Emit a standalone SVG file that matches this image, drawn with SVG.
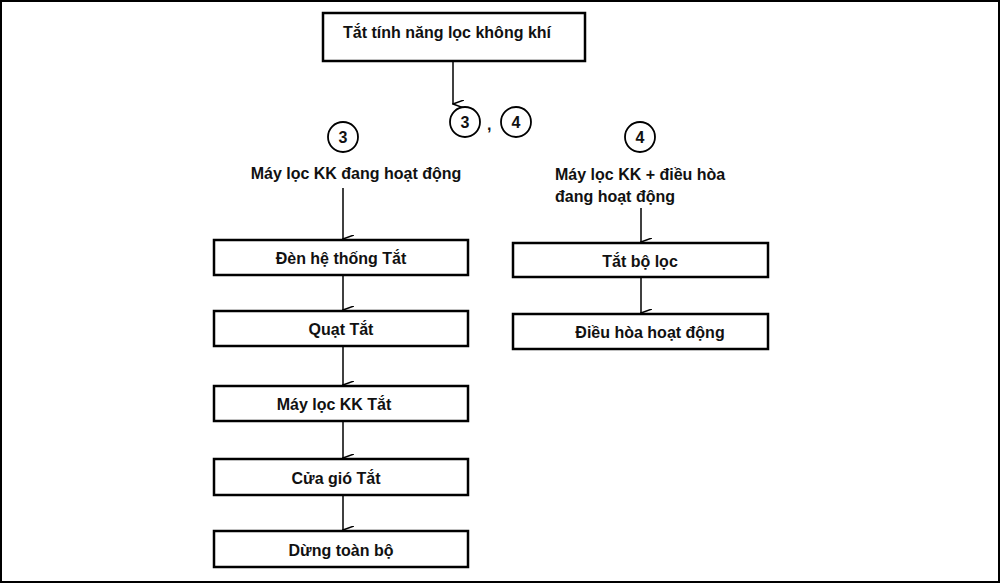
<svg xmlns="http://www.w3.org/2000/svg" width="1000" height="583" viewBox="0 0 1000 583">
<style>
text{font-family:"Liberation Sans",Arial,sans-serif;font-weight:bold;font-size:16px;fill:#111}
.b{fill:#fff;stroke:#000;stroke-width:2.5}
.c{fill:#fff;stroke:#000;stroke-width:1.8}
.l{stroke:#000;stroke-width:1.5;fill:none;marker-end:url(#a)}
.m{text-anchor:middle}
</style>
<defs><marker id="a" markerWidth="8" markerHeight="12" refX="4" refY="11" orient="auto" markerUnits="userSpaceOnUse"><path d="M0,0 L4,11 L8,0" fill="none" stroke="#000" stroke-width="1.5"/></marker></defs>
<rect x="1" y="1" width="998" height="581" fill="#fff" stroke="#000" stroke-width="2"/>
<g id="connectors">
<line class="l" x1="453" y1="61" x2="453" y2="104"/>
<line class="l" x1="343" y1="188" x2="343" y2="239"/>
<line class="l" x1="343" y1="275" x2="343" y2="310"/>
<line class="l" x1="343" y1="346" x2="343" y2="385"/>
<line class="l" x1="343" y1="421" x2="343" y2="458"/>
<line class="l" x1="343" y1="495" x2="343" y2="530"/>
<line class="l" x1="641" y1="208" x2="641" y2="242"/>
<line class="l" x1="641" y1="277" x2="641" y2="313"/>
</g>
<g id="top"><rect class="b" x="323" y="13" width="262" height="48"/><text x="343" y="38">Tắt tính năng lọc không khí</text></g>
<g id="c34"><circle class="c" cx="465" cy="122" r="15"/><text class="m" x="465" y="128">3</text><text x="487" y="130">,</text><circle class="c" cx="516" cy="122" r="15"/><text class="m" x="516" y="128">4</text></g>
<g id="n3"><circle class="c" cx="343" cy="137" r="15"/><text class="m" x="343" y="143">3</text><text class="m" x="356" y="179">Máy lọc KK đang hoạt động</text></g>
<g id="n4"><circle class="c" cx="640" cy="137" r="15"/><text class="m" x="640" y="143">4</text><text x="555" y="180">Máy lọc KK + điều hòa</text><text x="555" y="202">đang hoạt động</text></g>
<g id="b1"><rect class="b" x="214" y="240" width="254" height="35"/><text class="m" x="341" y="264">Đèn hệ thống Tắt</text></g>
<g id="b2"><rect class="b" x="214" y="311" width="254" height="35"/><text class="m" x="341" y="335">Quạt Tắt</text></g>
<g id="b3"><rect class="b" x="214" y="386" width="254" height="35"/><text class="m" x="334" y="410">Máy lọc KK Tắt</text></g>
<g id="b4"><rect class="b" x="214" y="459" width="254" height="36"/><text class="m" x="336" y="484">Cửa gió Tắt</text></g>
<g id="b5"><rect class="b" x="214" y="531" width="254" height="36"/><text class="m" x="341" y="556">Dừng toàn bộ</text></g>
<g id="r1"><rect class="b" x="513" y="243" width="255" height="34"/><text class="m" x="640" y="267">Tắt bộ lọc</text></g>
<g id="r2"><rect class="b" x="513" y="314" width="255" height="35"/><text class="m" x="650" y="338">Điều hòa hoạt động</text></g>
</svg>
